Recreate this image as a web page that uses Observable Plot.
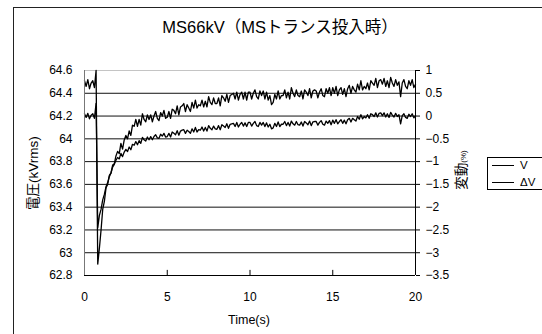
<!DOCTYPE html>
<html><head><meta charset="utf-8">
<script src="https://cdn.jsdelivr.net/npm/d3@7"></script>
<script src="https://cdn.jsdelivr.net/npm/@observablehq/plot@0.6"></script>
<style>
body{margin:0;width:542px;height:334px;overflow:hidden;background:#fff;position:relative;font-family:"Liberation Sans","Noto Sans CJK JP",sans-serif;color:#000;}
#frame{position:absolute;left:13px;top:7px;width:600px;height:400px;border:1.5px solid #222;}
#chart{position:absolute;left:0;top:0;}
.lbl{position:absolute;white-space:nowrap;line-height:1;}
#title{left:0;top:19px;width:560px;text-align:center;font-size:16.5px;}
#xlab{left:249px;top:320px;transform:translate(-50%,-50%);font-size:12.5px;}
#ylab{left:34px;top:173px;transform:translate(-50%,-50%) rotate(-90deg);font-size:13.5px;}
#y2lab{left:462px;top:170px;transform:translate(-50%,-50%) rotate(-90deg);font-size:13.5px;}
#y2lab small{font-size:8px;}
#legend{position:absolute;left:487px;top:157px;width:70px;height:31px;border:1px solid #000;background:#fff;font-size:11.5px;}
.li{position:absolute;left:4px;width:22px;border-top:1px solid #000;}
.lt{position:absolute;left:32px;line-height:1;}
</style></head>
<body>
<div id="frame"></div>
<div id="chart"></div>
<div class="lbl" id="title">MS66kV（MSトランス投入時）</div>
<div class="lbl" id="xlab">Time(s)</div>
<div class="lbl" id="ylab">電圧(kVrms)</div>
<div class="lbl" id="y2lab">変動<small>(%)</small></div>
<div id="legend">
  <div class="li" style="top:7px"></div><div class="lt" style="top:2px">V</div>
  <div class="li" style="top:24px"></div><div class="lt" style="top:19px">ΔV</div>
</div>
<script>
const dt = 0.1;
const xTicks = [0, 5, 10, 15, 20];
const leftTicks = [64.6, 64.4, 64.2, 64, 63.8, 63.6, 63.4, 63.2, 63, 62.8];
const rightTicks = [1, 0.5, 0, -0.5, -1, -1.5, -2, -2.5, -3, -3.5];
const seriesNames = ["V", "ΔV"];

// V (kV), sampled every 0.1 s from t = 0 to 20
const voltage = [
  64.51, 64.46, 64.52, 64.44, 64.49, 64.51, 64.45, 64.60, 62.90, 63.04,
  63.20, 63.38, 63.45, 63.57, 63.60, 63.68, 63.70, 63.77, 63.78, 63.85,
  63.89, 63.87, 63.96, 63.91, 63.99, 64.03, 64.00, 64.07, 64.03, 64.12,
  64.11, 64.17, 64.11, 64.17, 64.12, 64.22, 64.17, 64.15, 64.21, 64.17,
  64.21, 64.15, 64.20, 64.24, 64.18, 64.16, 64.23, 64.20, 64.25, 64.18,
  64.19, 64.24, 64.18, 64.26, 64.25, 64.22, 64.29, 64.21, 64.28, 64.29,
  64.31, 64.24, 64.30, 64.27, 64.24, 64.32, 64.27, 64.34, 64.27, 64.30,
  64.29, 64.34, 64.28, 64.33, 64.28, 64.37, 64.32, 64.30, 64.36, 64.31,
  64.31, 64.36, 64.29, 64.38, 64.36, 64.33, 64.39, 64.32, 64.38, 64.39,
  64.40, 64.35, 64.41, 64.34, 64.39, 64.41, 64.35, 64.41, 64.34, 64.41,
  64.41, 64.35, 64.40, 64.43, 64.37, 64.35, 64.42, 64.38, 64.42, 64.35,
  64.41, 64.34, 64.38, 64.30, 64.32, 64.39, 64.35, 64.42, 64.35, 64.38,
  64.38, 64.43, 64.36, 64.41, 64.35, 64.45, 64.40, 64.37, 64.43, 64.38,
  64.37, 64.42, 64.35, 64.43, 64.41, 64.38, 64.44, 64.36, 64.42, 64.43,
  64.42, 64.36, 64.41, 64.44, 64.38, 64.37, 64.44, 64.40, 64.45, 64.38,
  64.45, 64.40, 64.46, 64.38, 64.43, 64.45, 64.39, 64.44, 64.37, 64.44,
  64.47, 64.40, 64.46, 64.43, 64.41, 64.48, 64.43, 64.51, 64.43, 64.46,
  64.44, 64.49, 64.43, 64.51, 64.49, 64.47, 64.53, 64.45, 64.51, 64.52,
  64.48, 64.53, 64.46, 64.51, 64.45, 64.54, 64.49, 64.46, 64.52, 64.47,
  64.50, 64.37, 64.49, 64.52, 64.46, 64.44, 64.51, 64.47, 64.52, 64.45,
  64.48
];

// ΔV (%), same sampling
const deltaV = [
  0.05, -0.03, 0.06, -0.06, 0.02, 0.05, -0.05, 0.28, -2.45, -2.18,
  -2.05, -1.84, -1.72, -1.55, -1.46, -1.33, -1.25, -1.12, -1.06, -0.97,
  -0.91, -0.94, -0.82, -0.89, -0.79, -0.73, -0.78, -0.68, -0.74, -0.62,
  -0.64, -0.56, -0.63, -0.54, -0.60, -0.47, -0.52, -0.55, -0.46, -0.52,
  -0.45, -0.52, -0.45, -0.41, -0.48, -0.49, -0.40, -0.44, -0.38, -0.46,
  -0.45, -0.38, -0.46, -0.35, -0.38, -0.41, -0.32, -0.42, -0.33, -0.31,
  -0.30, -0.38, -0.31, -0.34, -0.38, -0.28, -0.35, -0.25, -0.35, -0.30,
  -0.31, -0.24, -0.33, -0.25, -0.33, -0.21, -0.27, -0.30, -0.22, -0.28,
  -0.29, -0.21, -0.30, -0.19, -0.22, -0.25, -0.17, -0.27, -0.18, -0.17,
  -0.16, -0.23, -0.14, -0.24, -0.18, -0.14, -0.22, -0.15, -0.23, -0.14,
  -0.14, -0.22, -0.16, -0.12, -0.21, -0.23, -0.14, -0.20, -0.14, -0.23,
  -0.15, -0.24, -0.18, -0.28, -0.26, -0.16, -0.23, -0.13, -0.23, -0.18,
  -0.18, -0.12, -0.21, -0.14, -0.22, -0.11, -0.17, -0.20, -0.12, -0.19,
  -0.20, -0.13, -0.22, -0.12, -0.15, -0.19, -0.11, -0.21, -0.13, -0.12,
  -0.12, -0.20, -0.14, -0.10, -0.18, -0.20, -0.11, -0.16, -0.10, -0.19,
  -0.09, -0.16, -0.08, -0.17, -0.12, -0.08, -0.16, -0.09, -0.17, -0.08,
  -0.05, -0.13, -0.05, -0.08, -0.11, -0.01, -0.07, 0.03, -0.06, -0.01,
  -0.04, 0.03, -0.05, 0.05, 0.03, -0.01, 0.07, -0.02, 0.06, 0.07,
  0.01, 0.07, -0.02, 0.05, -0.03, 0.08, 0.02, -0.02, 0.06, -0.01,
  0.03, -0.17, 0.01, 0.05, -0.03, -0.05, 0.04, -0.01, 0.05, -0.04,
  0.01
];

if (voltage.length !== 201 || deltaV.length !== 201) throw new Error("lengths " + voltage.length + " " + deltaV.length);

// secondary axis: right % axis shares the frame; 0 % ↔ 64.2 kV, 1 % ↔ 0.4 kV
const pctToKv = p => 64.2 + 0.4 * p;
const fmtPct = p => { const r = Math.round(p * 10) / 10; return (r < 0 ? "\u2212" : "") + Math.abs(r); };

const rows = [];
voltage.forEach((v, i) => rows.push({t: i * dt, y: v, s: seriesNames[0]}));
deltaV.forEach((p, i) => rows.push({t: i * dt, y: pctToKv(p), s: seriesNames[1]}));

const chart = Plot.plot({
  width: 542, height: 334,
  marginLeft: 84, marginRight: 127, marginTop: 70, marginBottom: 59,
  x: {domain: [0, 20]},
  y: {domain: [62.8, 64.6]},
  style: {fontFamily: '"Liberation Sans","Noto Sans CJK JP",sans-serif', fontSize: "12px", background: "transparent", color: "#000"},
  marks: [
    Plot.ruleY(leftTicks.filter(d => d > 62.8 && d < 64.6), {stroke: "#111", strokeWidth: 1}),
    Plot.ruleY([64.6], {stroke: "#c4c4c4", strokeWidth: 1}),
    Plot.line(rows, {x: "t", y: "y", z: "s", stroke: "#000", strokeWidth: 1.3}),
    Plot.ruleX([0], {stroke: "#777", strokeWidth: 1}),
    Plot.ruleX([20], {stroke: "#000", strokeWidth: 1}),
    Plot.ruleY([62.8], {stroke: "#000", strokeWidth: 1}),
    Plot.axisY(leftTicks, {anchor: "left", tickSize: 0, tickPadding: 12, tickFormat: d => String(d), label: null}),
    Plot.axisY(rightTicks.map(pctToKv), {anchor: "right", tickSize: 4, tickPadding: 6, tickFormat: d => fmtPct((d - 64.2) / 0.4), label: null}),
    Plot.axisX(xTicks, {anchor: "bottom", tickSize: 0, tickPadding: 17, tickFormat: d => String(d), label: null}),
    Plot.ruleX(xTicks.slice(1, -1), {y1: 62.8, y2: 62.845, stroke: "#000"})
  ]
});
document.getElementById("chart").appendChild(chart);
</script>
</body></html>
